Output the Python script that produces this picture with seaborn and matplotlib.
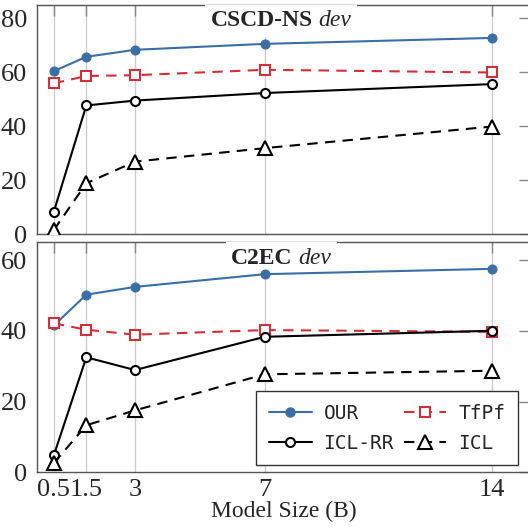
import numpy as np
import pandas as pd
import seaborn as sns
import matplotlib
matplotlib.use("Agg")
import matplotlib.pyplot as plt
from matplotlib.offsetbox import TextArea, HPacker, AnchoredOffsetbox
from matplotlib.lines import Line2D

# Model sizes (B)
sizes = [0.5, 1.5, 3, 7, 14]

# CSCD-NS dev
cscd_our = [60.4, 65.7, 68.3, 70.5, 72.7]
cscd_tfpf = [55.9, 58.6, 58.9, 60.9, 59.9]
cscd_iclrr = [8.4, 47.7, 49.5, 52.3, 55.6]
cscd_icl = [1.6, 18.9, 26.9, 31.9, 39.9]

# C2EC dev
c2ec_our = [41.5, 50.2, 52.4, 56.0, 57.5]
c2ec_tfpf = [42.1, 40.3, 38.9, 40.2, 39.7]
c2ec_iclrr = [4.8, 32.5, 28.9, 38.3, 40.0]
c2ec_icl = [2.6, 13.3, 17.5, 27.7, 28.7]

methods = ["OUR", "TfPf", "ICL-RR", "ICL"]

sns.set_style("white")
plt.rcParams['font.family'] = ['Liberation Serif', 'DejaVu Serif']

blue = "#3a6ea5"
red = "#d0303c"
styles = {
    "OUR": dict(color=blue, marker="o", linestyle="-", markersize=6.5,
                markerfacecolor=blue, markeredgecolor=blue),
    "TfPf": dict(color=red, marker="s", linestyle=(0, (5, 3.5)), markersize=6.5,
                 markerfacecolor="white", markeredgecolor=red, markeredgewidth=1.5),
    "ICL-RR": dict(color="black", marker="o", linestyle="-", markersize=6.5,
                   markerfacecolor="white", markeredgecolor="black", markeredgewidth=1.5),
    "ICL": dict(color="black", marker="^", linestyle=(0, (5, 3.5)), markersize=10,
                markerfacecolor="white", markeredgecolor="black", markeredgewidth=1.5),
}

panels = [
    ("CSCD-NS", [cscd_our, cscd_tfpf, cscd_iclrr, cscd_icl], (0, 85), [0, 20, 40, 60, 80]),
    ("C2EC", [c2ec_our, c2ec_tfpf, c2ec_iclrr, c2ec_icl], (0, 65), [0, 20, 40, 60]),
]

fig = plt.figure(figsize=(5.28, 5.27), dpi=100)
ax_top = fig.add_axes([0.070, 0.5554, 0.934, 0.4357])
ax_bot = fig.add_axes([0.070, 0.1038, 0.934, 0.4364])

for ax, (name, series, ylim, yticks) in zip([ax_top, ax_bot], panels):
    df = pd.DataFrame({
        "size": sizes * len(methods),
        "score": np.concatenate(series),
        "method": np.repeat(methods, len(sizes)),
    })
    for m in methods:
        sub = df[df["method"] == m]
        sns.lineplot(data=sub, x="size", y="score", ax=ax, lw=1.5, zorder=3,
                     label=m, legend=False, **styles[m])
    ax.set_xlim(-0.02, 15.17)
    ax.set_ylim(*ylim)
    ax.set_yticks(yticks)
    ax.set_xticks(sizes)
    ax.set_xticklabels(["0.5", "1.5", "3", "7", "14"])
    ax.grid(axis="x", color="#cccccc", lw=1)
    ax.tick_params(direction="in", length=8, width=1, color="#888888",
                   top=True, right=True, labelsize=19)
    ax.tick_params(axis="y", pad=7)
    ax.tick_params(axis="x", pad=5)
    for s in ax.spines.values():
        s.set_color("#555555")
        s.set_linewidth(1)
    ax.set_ylabel("")
    ax.set_xlabel("")

    # title: bold dataset name + italic "dev"
    t1 = TextArea(name, textprops=dict(fontsize=17, fontweight="bold"))
    t2 = TextArea("dev", textprops=dict(fontsize=17, fontstyle="italic"))
    box = HPacker(children=[t1, t2], align="baseline", pad=0, sep=4)
    anch = AnchoredOffsetbox(loc="upper center", child=box, pad=0.4,
                             frameon=True, bbox_to_anchor=(0.495, 1.0),
                             bbox_transform=ax.transAxes, borderpad=0)
    anch.patch.set_facecolor("white")
    anch.patch.set_edgecolor("none")
    anch.set_zorder(2.7)
    ax.add_artist(anch)

ax_top.tick_params(labelbottom=False)
ax_bot.set_xlabel("Model Size (B)", fontsize=17, labelpad=0)

# legend filled row-wise: OUR, TfPf / ICL-RR, ICL
order = ["OUR", "ICL-RR", "TfPf", "ICL"]
handles = [Line2D([], [], lw=1.5, **styles[m]) for m in order]
leg = ax_bot.legend(handles, order, ncol=2, loc="lower right",
                    bbox_to_anchor=(0.975, 0.03), borderaxespad=0,
                    fancybox=False, framealpha=1, edgecolor="#333333",
                    prop={'family': 'DejaVu Sans Mono', 'size': 14},
                    handlelength=2.2, columnspacing=0.5, handletextpad=0.6,
                    borderpad=0.65, labelspacing=0.55)
leg.get_frame().set_linewidth(1)
leg.set_zorder(5)

fig.savefig("out.png", dpi=100)
